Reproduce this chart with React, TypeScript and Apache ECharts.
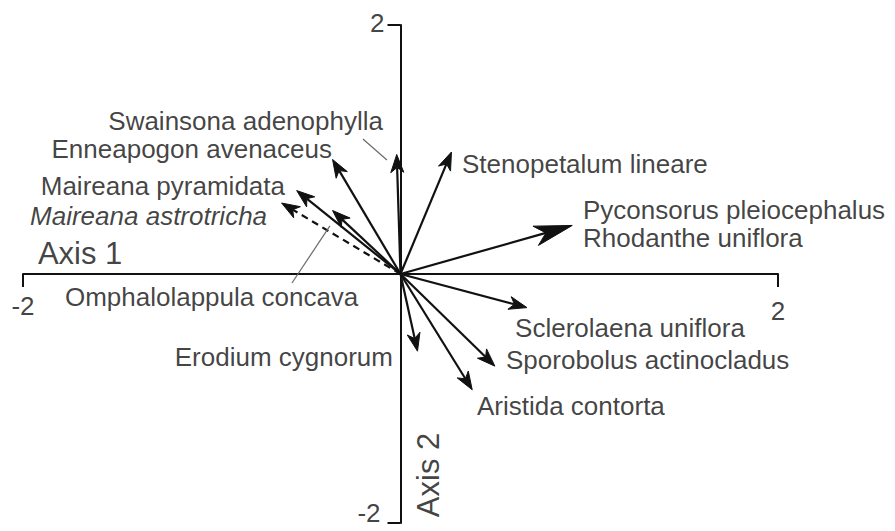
import React, { useEffect, useRef } from "react";
import * as echarts from "echarts";

// Biplot vectors: species scores on ordination axes 1 and 2
const speciesNames = [
  "Swainsona adenophylla",
  "Enneapogon avenaceus",
  "Maireana pyramidata",
  "Maireana astrotricha",
  "Omphalolappula concava",
  "Stenopetalum lineare",
  "Pyconsorus pleiocephalus / Rhodanthe uniflora",
  "Sclerolaena uniflora",
  "Sporobolus actinocladus",
  "Aristida contorta",
  "Erodium cygnorum",
];
const axis1Scores = [-0.02, -0.36, -0.55, -0.63, -0.36, 0.27, 0.91, 0.67, 0.5, 0.38, 0.09];
const axis2Scores = [0.96, 0.92, 0.67, 0.57, 0.51, 0.98, 0.39, -0.27, -0.74, -0.93, -0.62];
// 0 = solid arrow, 1 = dashed arrow, 2 = wide-headed arrow
const arrowKinds = [0, 0, 0, 1, 0, 0, 2, 0, 0, 0, 0];

// Species labels and where they sit (axis units)
const labelTexts = [
  "Swainsona adenophylla",
  "Enneapogon avenaceus",
  "Maireana pyramidata",
  "Maireana astrotricha",
  "Omphalolappula concava",
  "Erodium cygnorum",
  "Stenopetalum lineare",
  "Pyconsorus pleiocephalus",
  "Rhodanthe uniflora",
  "Sclerolaena uniflora",
  "Sporobolus actinocladus",
  "Aristida contorta",
];
const labelX = [-0.093, -0.363, -0.612, -0.707, -1.778, -0.04, 0.326, 0.967, 0.967, 0.607, 0.559, 0.405];
const labelY = [1.225, 1.004, 0.707, 0.466, -0.185, -0.667, 0.884, 0.514, 0.29, -0.434, -0.691, -1.06];
const labelSides = ["left", "left", "left", "left", "right", "left", "right", "right", "right", "right", "right", "right"];
const labelItalic = [false, false, false, true, false, false, false, false, false, false, false, false];

// Thin leader lines joining a label to its vector
const leaderFromX = [-0.199, -0.575];
const leaderFromY = [1.084, -0.072];
const leaderToX = [-0.072, -0.374];
const leaderToY = [0.916, 0.386];

const axisTitles = ["Axis 1", "Axis 2"];
const axisTitleX = [-1.921, 0.146];
const axisTitleY = [0.161, -1.614];

// Axis range and the tick labels at its two ends
const axisMin = -2;
const axisMax = 2;
const tickStep = 4;
const tickValues = [-2, 2];
const tickLabels = ["-2", "2"];

const INK = "#111111";
const FONT = "'Liberation Sans', Arial, sans-serif";

export default function App() {
  const ref = useRef<HTMLDivElement>(null);

  useEffect(() => {
    if (!ref.current) return;
    const chart = echarts.init(ref.current, undefined, { renderer: "svg" });

    const arrowData = axis1Scores.map((x, i) => ({
      name: speciesNames[i],
      value: [x, axis2Scores[i], arrowKinds[i]],
    }));

    const leaderData = leaderFromX.map((x, i) => [x, leaderFromY[i], leaderToX[i], leaderToY[i]]);

    const labelData: any[] = labelTexts.map((t, i) => ({
      name: t,
      value: [labelX[i], labelY[i]],
      label: {
        position: labelSides[i],
        fontStyle: labelItalic[i] ? "italic" : "normal",
      },
    }));
    labelData.push({
      name: axisTitles[0],
      value: [axisTitleX[0], axisTitleY[0]],
      label: { position: "right", fontSize: 31 },
    });
    labelData.push({
      name: axisTitles[1],
      value: [axisTitleX[1], axisTitleY[1]],
      label: { position: "inside", fontSize: 31, rotate: 90, align: "center", verticalAlign: "middle" },
    });

    // End-of-axis numbers: below the horizontal axis, left of the vertical axis
    tickValues.forEach((v, i) => {
      labelData.push({
        name: tickLabels[i],
        value: [v, 0],
        label: {
          position: "inside",
          align: "center",
          verticalAlign: "middle",
          fontSize: 26,
          offset: [0, v < 0 ? 32 : 37],
        },
      });
      labelData.push({
        name: tickLabels[i],
        value: [0, v],
        label: {
          position: "left",
          fontSize: 26,
          distance: v < 0 ? 20 : 16,
          offset: [0, v < 0 ? -10 : -2],
        },
      });
    });

    const axisCommon = {
      type: "value" as const,
      min: axisMin,
      max: axisMax,
      interval: tickStep,
      splitLine: { show: false },
      axisLabel: { show: false },
      axisLine: { show: true, onZero: true, lineStyle: { color: INK, width: 2 } },
      axisTick: { show: true, length: 13, lineStyle: { color: INK, width: 2 } },
    };

    chart.setOption({
      animation: false,
      grid: {
        left: 23,
        right: 117,
        top: 25,
        bottom: 8,
        containLabel: false,
        outerBoundsMode: "none",
      },
      xAxis: { ...axisCommon },
      yAxis: { ...axisCommon },
      series: [
        {
          type: "custom",
          name: "vectors",
          clip: false,
          encode: { x: 0, y: 1 },
          data: arrowData,
          renderItem: (params: any, api: any) => {
            const o = api.coord([0, 0]);
            const t = api.coord([api.value(0), api.value(1)]);
            const kind = api.value(2);
            const dx = t[0] - o[0];
            const dy = t[1] - o[1];
            const len = Math.hypot(dx, dy) || 1;
            const ux = dx / len;
            const uy = dy / len;
            const nx = -uy;
            const ny = ux;
            const headLen = kind === 2 ? 38 : 18;
            const headW = kind === 2 ? 10 : 6.5;
            const notch = headLen * 0.72;
            const bx = t[0] - ux * headLen;
            const by = t[1] - uy * headLen;
            const points = [
              [t[0], t[1]],
              [bx + nx * headW, by + ny * headW],
              [t[0] - ux * notch, t[1] - uy * notch],
              [bx - nx * headW, by - ny * headW],
            ];
            return {
              type: "group",
              children: [
                {
                  type: "line",
                  shape: { x1: o[0], y1: o[1], x2: t[0] - ux * notch, y2: t[1] - uy * notch },
                  style: {
                    stroke: INK,
                    lineWidth: 2.2,
                    lineDash: kind === 1 ? [7, 5] : null,
                  },
                },
                {
                  type: "polygon",
                  shape: { points },
                  style: { fill: INK, stroke: INK, lineWidth: 1 },
                },
              ],
            };
          },
        },
        {
          type: "custom",
          name: "leaders",
          clip: false,
          encode: { x: [0, 2], y: [1, 3] },
          data: leaderData,
          renderItem: (params: any, api: any) => {
            const a = api.coord([api.value(0), api.value(1)]);
            const b = api.coord([api.value(2), api.value(3)]);
            return {
              type: "line",
              shape: { x1: a[0], y1: a[1], x2: b[0], y2: b[1] },
              style: { stroke: "#6a6a6a", lineWidth: 1.2 },
            };
          },
        },
        {
          type: "scatter",
          name: "labels",
          symbolSize: 0,
          clip: false,
          silent: true,
          data: labelData,
          label: {
            show: true,
            formatter: "{b}",
            distance: 0,
            fontSize: 26,
            fontFamily: FONT,
            color: INK,
          },
        },
      ],
    });

    return () => chart.dispose();
  }, []);

  return (
    <div
      ref={ref}
      style={{ position: "fixed", left: 0, top: 0, width: 895, height: 531, background: "#ffffff" }}
    />
  );
}
